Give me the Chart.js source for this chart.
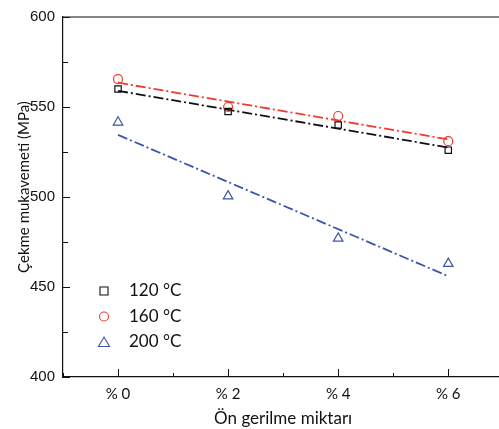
<!DOCTYPE html>
<html>
<head>
<meta charset="utf-8">
<script src="https://cdn.jsdelivr.net/npm/chart.js@4/dist/chart.umd.min.js"></script>
<style>
  html, body { margin:0; padding:0; background:#fff; overflow:hidden; }
  #wrap { position:relative; width:510px; height:429px; }
</style>
</head>
<body>
<div id="wrap"><canvas id="c" width="510" height="429"></canvas></div>
<script>
/* ===== Data ===== */
const strain   = [0, 2, 4, 6];            // % pre-strain
const s120     = [560, 547.5, 540, 526];
const s160     = [565.5, 550, 545, 531];
const s200     = [541.5, 500.5, 477, 463];
const fitX     = [0, 6];
const fit120   = [559, 527.5];
const fit160   = [563.5, 532];
const fit200   = [534.5, 456];
const labels   = ['120 °C', '160 °C', '200 °C'];
const xTicks   = [0, 2, 4, 6];
const yTicks   = [400, 450, 500, 550, 600];
const yTitle   = 'Çekme mukavemeti (MPa)';

const BLACK = '#111', RED = '#ef3b2c', BLUE = '#3c55a8';
const FONT = 'Lato, "Open Sans", sans-serif';
const pts = (xs, ys) => xs.map((x,i)=>({x, y:ys[i]}));
const dash = [10, 3, 2, 3];

const markers = (lbl, data, col, style, r) => ({
  label: lbl, data: pts(strain, data), showLine:false,
  pointStyle: style, pointRadius: r, borderColor: col, borderWidth: 1.2,
  backgroundColor: 'rgba(0,0,0,0)', order: 1
});
const fitLine = (data, col) => ({
  label: '', data: pts(fitX, data), showLine:true, pointRadius:0,
  borderColor: col, borderWidth: 1.8, borderDash: dash, fill:false, order: 2
});

/* ===== inward ticks, top frame, y title, legend ===== */
const decor = {
  id:'decor',
  afterDraw(chart){
    const {ctx, chartArea:a, scales:{x, y}} = chart;
    ctx.save();
    ctx.strokeStyle = '#111'; ctx.lineWidth = 1.2;
    ctx.beginPath(); ctx.moveTo(a.left, a.top); ctx.lineTo(a.right + 10, a.top); ctx.stroke();
    ctx.lineWidth = 1;
    // y ticks (major 50, minor 25)
    for (let v = 400; v <= 600; v += 25){
      const py = Math.round(y.getPixelForValue(v)) + 0.5;
      const len = (v % 50 === 0) ? 7 : 5;
      ctx.beginPath(); ctx.moveTo(a.left, py); ctx.lineTo(a.left + len, py); ctx.stroke();
    }
    // x ticks (major at even, minor at odd)
    for (let v = -1; v <= 7; v++){
      const px = Math.round(x.getPixelForValue(v)) + 0.5;
      const len = (v % 2 === 0) ? 8 : 4;
      ctx.beginPath(); ctx.moveTo(px, a.bottom); ctx.lineTo(px, a.bottom - len); ctx.stroke();
    }
    // y axis title
    ctx.fillStyle = '#111';
    ctx.font = '15px ' + FONT;
    ctx.textAlign = 'center'; ctx.textBaseline = 'middle';
    ctx.translate(24, 187); ctx.rotate(-Math.PI / 2);
    ctx.fillText(yTitle, 0, 0);
    ctx.setTransform(1, 0, 0, 1, 0, 0);
    // legend
    const sets = chart.data.datasets.slice(0, 3);
    ctx.font = '17px ' + FONT;
    ctx.textAlign = 'left';
    sets.forEach((d, i) => {
      const cy = 291 + i * 25.5, cx = 104;
      ctx.strokeStyle = d.borderColor; ctx.lineWidth = 1.1;
      ctx.beginPath();
      if (d.pointStyle === 'rect') ctx.rect(cx - 4, cy - 4, 8, 8);
      else if (d.pointStyle === 'circle') ctx.arc(cx, cy, 4.5, 0, Math.PI * 2);
      else { ctx.moveTo(cx, cy - 5); ctx.lineTo(cx + 5.5, cy + 4.5); ctx.lineTo(cx - 5.5, cy + 4.5); ctx.closePath(); }
      ctx.stroke();
      ctx.fillStyle = '#111';
      ctx.fillText(d.label, 129, cy);
    });
    ctx.restore();
  }
};

new Chart(document.getElementById('c'), {
  type: 'scatter',
  data: {
    datasets: [
      markers(labels[0], s120, BLACK, 'rect', 4.5),
      markers(labels[1], s160, RED, 'circle', 4.5),
      markers(labels[2], s200, BLUE, 'triangle', 5.5),
      fitLine(fit120, BLACK),
      fitLine(fit160, RED),
      fitLine(fit200, BLUE)
    ]
  },
  options: {
    responsive:false, animation:false,
    layout:{ padding:{ top:15, right:6, left:0, bottom:0 } },
    plugins:{ legend:{ display:false }, tooltip:{ enabled:false } },
    scales:{
      x:{
        type:'linear', min:-1, max:7,
        afterFit(s){ s.height = 52; },
        afterBuildTicks(s){ s.ticks = xTicks.map(v => ({value:v})); },
        ticks:{ color:'#111', padding:8, autoSkip:false, maxRotation:0,
          font:{ family:FONT, size:15 },
          callback:(v) => '% ' + v },
        grid:{ display:false, drawTicks:false },
        border:{ display:true, color:'#111', width:1.2 },
        title:{ display:true, text:'Ön gerilme miktarı', color:'#111', padding:{top:0, bottom:0},
          font:{ family:FONT, size:17 } }
      },
      y:{
        min:400, max:600,
        afterFit(s){ s.width = 63; },
        afterBuildTicks(s){ s.ticks = yTicks.map(v => ({value:v})); },
        ticks:{ color:'#111', padding:8,
          font:{ family:'"Liberation Sans", Arial, sans-serif', size:15 } },
        grid:{ display:false, drawTicks:false },
        border:{ display:true, color:'#111', width:1.2 },
        title:{ display:false }
      }
    }
  },
  plugins:[decor]
});
</script>
</body>
</html>
